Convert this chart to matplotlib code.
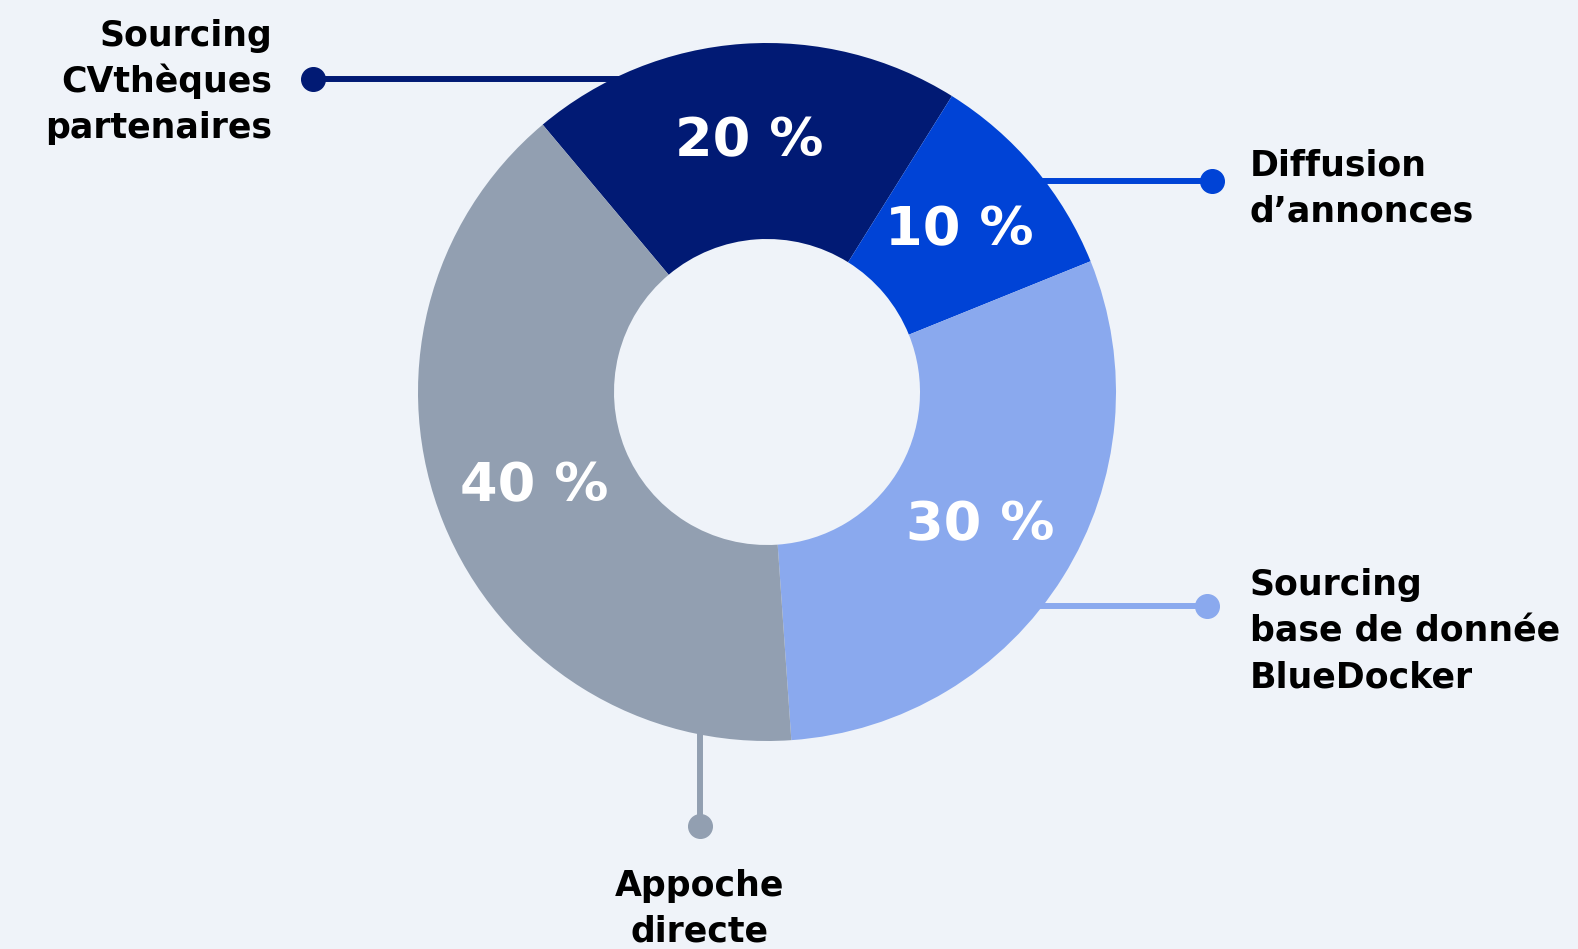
import matplotlib
matplotlib.use("Agg")
import matplotlib.pyplot as plt

# ---- data ----
categories = ["Sourcing\nCVthèques\npartenaires", "Diffusion\nd’annonces",
              "Sourcing\nbase de donnée\nBlueDocker", "Appoche\ndirecte"]
values = [20, 10, 30, 40]
colors = ["#011a74", "#0043d6", "#8aa9ee", "#929fb1"]

BG = "#eff3f9"
W, H = 1578, 949
FONT = ["DejaVu Sans"]

fig = plt.figure(figsize=(W / 100, H / 100), dpi=100, facecolor=BG)
ax = fig.add_axes([0, 0, 1, 1])
ax.set_facecolor(BG)

cx, cy = 767, H - 392
R_out, R_in = 349, 153

wedges, texts, autotexts = ax.pie(
    values, colors=colors, startangle=130, counterclock=False,
    radius=R_out, center=(cx, cy),
    wedgeprops=dict(width=R_out - R_in, linewidth=0),
    autopct=lambda p: f"{p:.0f} %", pctdistance=(R_out + R_in) / 2 / R_out,
    textprops=dict(color="white", fontsize=39, fontweight="bold", family=FONT),
)
for w in wedges:
    w.set_zorder(2)
for t in autotexts:
    t.set_zorder(3)

ax.set_xlim(0, W)
ax.set_ylim(0, H)
ax.set_aspect("equal")
ax.axis("off")

lw = 4.3
ms = 17


def sy(y):
    return H - y


# leader lines
ax.plot([313, 700], [sy(79), sy(79)], color=colors[0], lw=lw, zorder=1)
ax.plot([313], [sy(79)], "o", color=colors[0], ms=ms, zorder=1)
ax.plot([1000, 1212], [sy(181), sy(181)], color=colors[1], lw=lw, zorder=1)
ax.plot([1212], [sy(181)], "o", color=colors[1], ms=ms, zorder=1)
ax.plot([1000, 1207], [sy(606), sy(606)], color=colors[2], lw=lw, zorder=1)
ax.plot([1207], [sy(606)], "o", color=colors[2], ms=ms, zorder=1)
ax.plot([700, 700], [sy(700), sy(826)], color=colors[3], lw=lw, zorder=1)
ax.plot([700], [sy(826)], "o", color=colors[3], ms=ms, zorder=1)

lab = dict(fontsize=25, fontweight="bold", family=FONT, color="black", va="baseline")
spacing = 46
anchors = [(272, 46, "right"), (1250, 175, "left"), (1250, 595, "left"), (700, 896, "center")]
for cat, (x, y0, ha) in zip(categories, anchors):
    for i, line in enumerate(cat.split("\n")):
        ax.text(x, sy(y0 + i * spacing), line, ha=ha, **lab)

fig.savefig("out.png", dpi=100, facecolor=BG)
